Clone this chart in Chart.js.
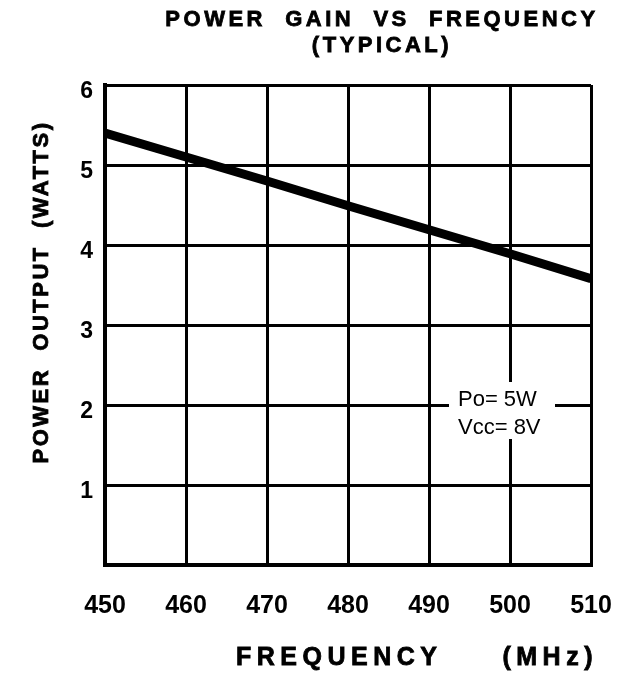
<!DOCTYPE html>
<html>
<head>
<meta charset="utf-8">
<script src="https://cdn.jsdelivr.net/npm/chart.js@4/dist/chart.umd.min.js"></script>
<style>
  html, body { margin: 0; padding: 0; background: #fff; }
</style>
</head>
<body>
<canvas id="chart" width="618" height="677"></canvas>
<script>
// data
var freqs = [450, 460, 470, 480, 490, 500, 510];
var powerOut = [5.40, 5.10, 4.80, 4.49, 4.19, 3.89, 3.58];
var noteLines = ['Po= 5W', 'Vcc= 8V'];

var FONT = '"Liberation Sans", Arial, Helvetica, sans-serif';

// fill + thin stroke so the text looks as heavy as the scanned original
function heavyText(ctx, txt, x, y) {
  ctx.fillText(txt, x, y);
  ctx.strokeText(txt, x, y);
}

// titles and the Po/Vcc note, drawn with letter spacing like the original
const textPlugin = {
  id: 'texts',
  afterDraw(chart) {
    const ctx = chart.ctx;
    const xs = chart.scales.x, ys = chart.scales.y;
    ctx.save();
    ctx.fillStyle = '#000';
    ctx.strokeStyle = '#000';
    ctx.lineWidth = 0.8;
    ctx.textAlign = 'center';
    ctx.textBaseline = 'middle';

    ctx.font = 'bold 22px ' + FONT;
    ctx.letterSpacing = '3.5px';
    heavyText(ctx, 'POWER  GAIN  VS  FREQUENCY', 382, 20);
    heavyText(ctx, '(TYPICAL)', 382, 46);

    // x axis title
    ctx.font = 'bold 25px ' + FONT;
    ctx.letterSpacing = '5.5px';
    ctx.textAlign = 'left';
    heavyText(ctx, 'FREQUENCY', 236, 658);
    ctx.textAlign = 'right';
    heavyText(ctx, '(MHz)', 598, 658);

    // y axis title
    ctx.font = 'bold 22px ' + FONT;
    ctx.letterSpacing = '2.5px';
    ctx.textAlign = 'center';
    ctx.save();
    ctx.translate(42, 292);
    ctx.rotate(-Math.PI / 2);
    heavyText(ctx, 'POWER  OUTPUT  (WATTS)', 0, 0);
    ctx.restore();

    // note box sits on the 2 W grid line near 500 MHz
    const px = xs.getPixelForValue(500), py = ys.getPixelForValue(2);
    ctx.fillStyle = '#fff';
    ctx.fillRect(px - 61, py - 23, 106, 57);
    ctx.fillStyle = '#000';
    ctx.font = '22px ' + FONT;
    ctx.letterSpacing = '0px';
    ctx.textAlign = 'left';
    ctx.fillText(noteLines[0], px - 52, py - 5);
    ctx.fillText(noteLines[1], px - 52, py + 23);
    ctx.restore();
  }
};

const cfg = {
  type: 'line',
  data: {
    datasets: [{
      data: freqs.map((f, i) => ({ x: f, y: powerOut[i] })),
      borderColor: '#000',
      borderWidth: 9,
      pointRadius: 0,
      tension: 0,
      borderCapStyle: 'butt'
    }]
  },
  options: {
    responsive: false,
    animation: false,
    layout: { padding: { top: 85, right: 27, left: 0, bottom: 0 } },
    plugins: { legend: { display: false }, tooltip: { enabled: false } },
    scales: {
      x: {
        type: 'linear',
        min: 450, max: 510,
        afterFit: (s) => { s.height = 112; s.paddingLeft = 0; s.paddingRight = 0; },
        ticks: {
          stepSize: 10,
          color: '#000',
          padding: 26,
          font: { family: FONT, size: 25, weight: 'bold' }
        },
        grid: { color: '#000', lineWidth: 3, drawTicks: false },
        border: { color: '#000', width: 4 }
      },
      y: {
        min: 0, max: 6,
        afterFit: (s) => { s.width = 105; },
        ticks: {
          stepSize: 1,
          color: '#000',
          padding: 12,
          labelOffset: 7,
          font: { family: FONT, size: 23, weight: 'bold' },
          callback: (v) => (v === 0 ? '' : v)
        },
        grid: { color: '#000', lineWidth: 3, drawTicks: false },
        border: { color: '#000', width: 4 }
      }
    }
  },
  plugins: [textPlugin]
};

const ctxEl = document.getElementById('chart');
window.myChart = new Chart(ctxEl, cfg);
</script>
</body>
</html>
